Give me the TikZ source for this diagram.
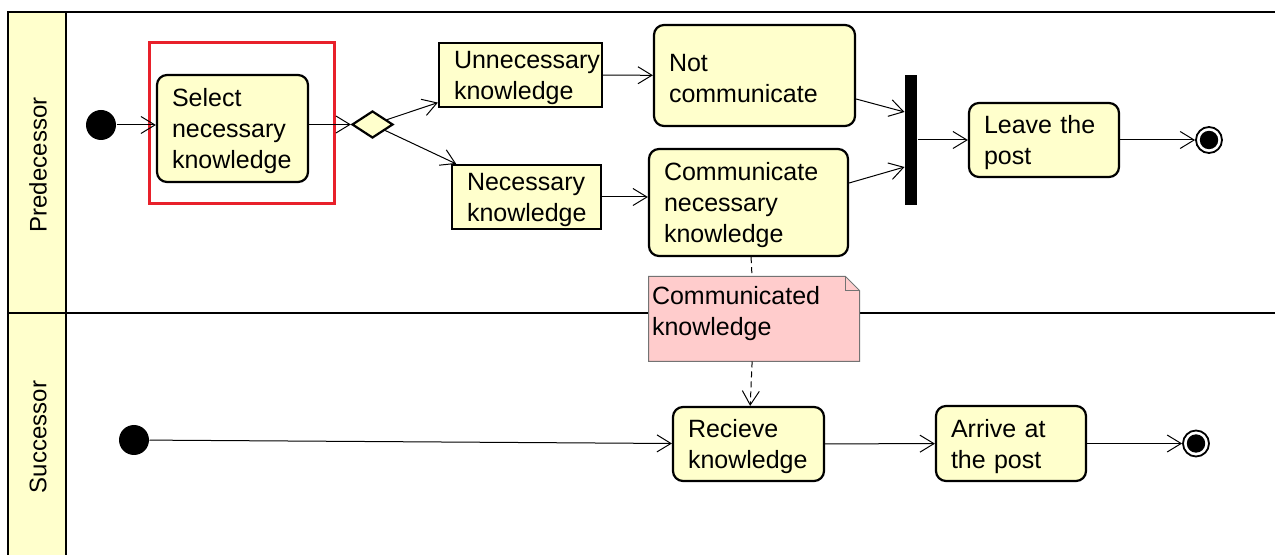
\documentclass[tikz,border=0pt]{standalone}
\usepackage{fontspec}
\setmainfont{Liberation Sans}
\usetikzlibrary{arrows.meta,shapes.geometric,calc}
\definecolor{actfill}{HTML}{FFFFCC}
\definecolor{notefill}{HTML}{FFCCCC}
\definecolor{hilite}{HTML}{E8202A}
\hyphenpenalty=10000
\begin{document}
\begin{tikzpicture}[x=0.5pt,y=-0.5pt,line width=0.5pt,
		font=\fontsize{12.5}{15.5}\selectfont,
		lane/.style={line width=1.3pt},
		action/.style={draw,line width=1.1pt,fill=actfill,rounded corners=5pt,align=left,inner xsep=7.5pt,inner ysep=0pt,text height=12pt},
		object/.style={action,rounded corners=0pt},
		initial/.style={circle,fill=black,minimum size=15pt,inner sep=0pt},
		final/.style={circle,draw,line width=0.9pt,minimum size=13pt,inner sep=0pt,path picture={\fill (path picture bounding box.center) circle (4.6pt);}},
		note/.style={fill=white,align=left,inner xsep=1.5pt,inner ysep=0pt,text height=9pt,text depth=23pt,path picture={\fill[notefill] (path picture bounding box.south west) -- (path picture bounding box.north west) -- ([xshift=-7pt]path picture bounding box.north east) -- ([yshift=-7pt]path picture bounding box.north east) -- (path picture bounding box.south east) -- cycle;}},
		flow/.style={-{Straight Barb[length=7pt,width=8.5pt]}},
		dep/.style={dash pattern=on 3pt off 2pt}]
		\useasboundingbox (0,0) rectangle (1275,555);
		\fill[actfill] (8,12) rectangle (66,560);
		\draw[lane] (1280,12) -- (8,12) -- (8,560);
		\draw[lane] (66,12) -- (66,560);
		\draw[lane] (8,313) -- (1280,313);
		\node[rotate=90,font=\fontsize{12}{14}\selectfont] (pred) at (38,165) {Predecessor};
		\node[rotate=90,font=\fontsize{12}{14}\selectfont] (succ) at (38,437) {Successor};
		\node[initial] (init1) at (101,125) {};
		\node[action,text width=60.5pt,minimum height=53.5pt] (select) at (232.5,128.5) {Select\\necessary\\knowledge};
		\draw[hilite,line width=1.5pt] (149,43) rectangle (334,204);
		\node[diamond,draw,line width=1.1pt,fill=actfill,minimum width=20.5pt,minimum height=13.5pt,inner sep=0pt] (dec) at (372.5,124.5) {};
		\node[object,text width=66.5pt,minimum height=32pt] (unnec) at (520.5,75) {Unnecessary\\knowledge};
		\node[object,text width=59.5pt,minimum height=32pt] (nec) at (526.5,197) {Necessary\\knowledge};
		\node[action,text width=85.5pt,minimum height=50.5pt] (notcomm) at (754.5,75.5) {Not\\communicate};
		\node[action,text width=84.5pt,minimum height=53.5pt] (comm) at (748.5,202.5) {Communicate\\necessary\\knowledge};
		\node[fill=black,minimum width=6pt,minimum height=65pt,inner sep=0pt] (join) at (911,140) {};
		\node[action,text width=60pt,minimum height=37pt] (leave) at (1044,140) {Leave the\\post};
		\node[final] (fin1) at (1209,140) {};
		\node[note,text width=102pt,minimum width=105pt,minimum height=42pt] (note) at (754,319) {Communicated\\knowledge};
		\draw[black!55] (note.south west) -- (note.north west) -- ([xshift=-7pt]note.north east) -- ([yshift=-7pt]note.north east) -- (note.south east) -- cycle;
		\draw[black!55] ([xshift=-7pt]note.north east) -- ([xshift=-7pt,yshift=-7pt]note.north east) -- ([yshift=-7pt]note.north east);
		\node[initial] (init2) at (134,440) {};
		\node[action,text width=60.5pt,minimum height=37pt] (recv) at (748.5,444) {Recieve\\knowledge};
		\node[action,text width=60pt,minimum height=37.5pt] (arrive) at (1011,443.5) {Arrive at\\the post};
		\node[final] (fin2) at (1196,443.5) {};
		\draw[flow] (init1) -- (init1 -| select.west);
		\draw[flow] (select.east |- dec) -- (dec);
		\draw[flow] (dec) -- (unnec);
		\draw[flow] (dec) -- (nec);
		\draw[flow] (unnec) -- (notcomm);
		\draw[flow] (nec.east) -- (nec.east -| comm.west);
		\draw[flow] ($(notcomm.east)+(0,23.5)$) -- ($(join.west)+(0,-28)$);
		\draw[flow] ($(comm.east)+(0,-19.5)$) -- ($(join.west)+(0,27)$);
		\draw[flow] (join) -- (leave);
		\draw[flow] (leave) -- (fin1);
		\draw[dep] (comm) -- (note);
		\draw[dep,flow] (note) -- (recv);
		\draw[flow] (init2) -- (recv);
		\draw[flow] (recv) -- (arrive);
		\draw[flow] (arrive) -- (fin2);
	\end{tikzpicture}
\end{document}
